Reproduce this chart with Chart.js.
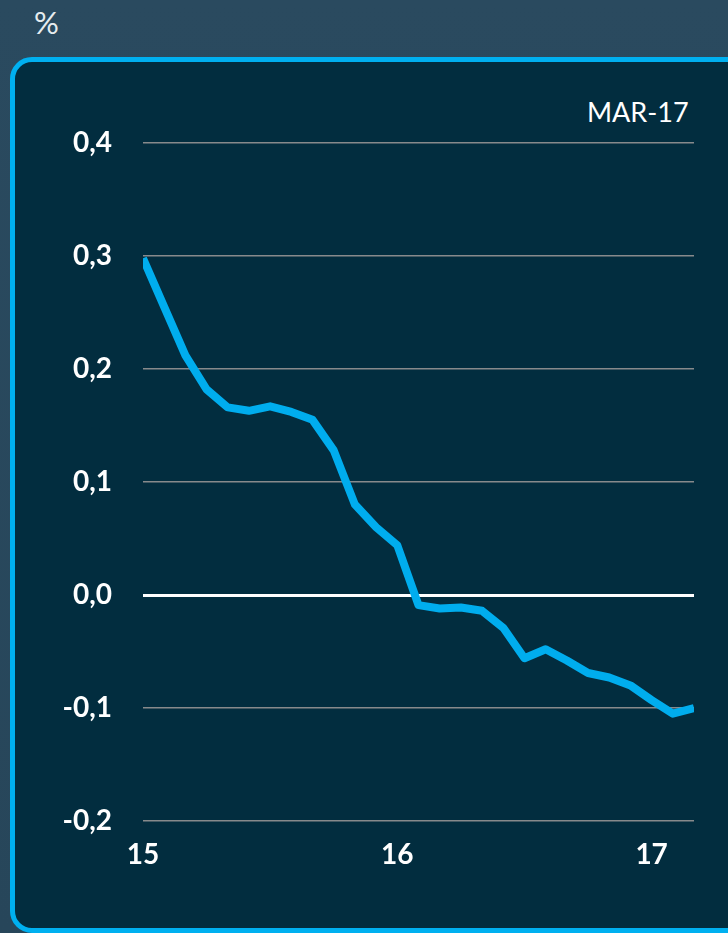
<!DOCTYPE html>
<html>
<head>
<meta charset="utf-8">
<script src="https://cdn.jsdelivr.net/npm/chart.js@4"></script>
<style>
  html, body { margin: 0; padding: 0; }
  body {
    width: 728px; height: 933px; overflow: hidden; position: relative;
    background: linear-gradient(180deg, #2a4a5f 0%, #27465a 100%);
    font-family: Lato, "Open Sans", sans-serif;
  }
  #pct { position: absolute; left: 34px; top: 3px; color: #e6ecef; font-size: 31px; }
  #box {
    position: absolute; left: 10px; top: 57px; width: 760px; height: 876px;
    box-sizing: border-box; border: 5px solid #00b0f0; border-radius: 22px;
    background: #022d3f;
  }
  #tag { position: absolute; left: 587px; top: 95px; color: #ffffff; font-size: 27px; }
  #myChart { position: absolute; left: 0; top: 0; }
</style>
</head>
<body>
<div id="pct">%</div>
<div id="box"></div>
<div id="tag">MAR-17</div>
<canvas id="myChart" width="728" height="933"></canvas>
<script>
// meses ene-2015 a mar-2017
const meses = ["ene-15","feb-15","mar-15","abr-15","may-15","jun-15","jul-15","ago-15","sep-15","oct-15","nov-15","dic-15",
  "ene-16","feb-16","mar-16","abr-16","may-16","jun-16","jul-16","ago-16","sep-16","oct-16","nov-16","dic-16",
  "ene-17","feb-17","mar-17"];
const valores = [0.298, 0.255, 0.212, 0.182, 0.166, 0.163, 0.167, 0.162, 0.155, 0.128, 0.080, 0.060,
  0.044, -0.009, -0.012, -0.011, -0.014, -0.029, -0.056, -0.048, -0.058, -0.069, -0.073, -0.080,
  -0.093, -0.105, -0.100];
const etiquetasX = { 0: "15", 12: "16", 24: "17" };
const ticksY = [-0.2, -0.1, 0, 0.1, 0.2, 0.3, 0.4];

const ctx = document.getElementById("myChart");

new Chart(ctx, {
  type: "line",
  data: {
    labels: meses,
    datasets: [{
      data: valores,
      borderColor: "#00adee",
      borderWidth: 8,
      pointRadius: 0,
      tension: 0,
      borderJoinStyle: "round",
      clip: { left: 0, right: 0, top: false, bottom: false },
    }],
  },
  options: {
    responsive: false,
    animation: false,
    devicePixelRatio: 1,
    layout: { padding: { top: 143, right: 34, bottom: 0, left: 0 } },
    plugins: { legend: { display: false }, tooltip: { enabled: false } },
    scales: {
      x: {
        offset: false,
        grid: { display: false, drawTicks: false },
        border: { display: false },
        afterFit: (axis) => { axis.height = 112; },
        ticks: {
          autoSkip: false,
          maxRotation: 0,
          padding: 17,
          color: "#ffffff",
          font: { family: "Lato", size: 28, weight: "bold" },
          callback: (val, i) => etiquetasX[i] || "",
        },
      },
      y: {
        min: ticksY[0],
        max: ticksY[ticksY.length - 1],
        afterFit: (axis) => { axis.width = 143; },
        afterBuildTicks: (axis) => { axis.ticks = ticksY.map((v) => ({ value: v })); },
        border: { display: false },
        grid: {
          drawTicks: false,
          color: (c) => (c.tick && c.tick.value === 0 ? "#ffffff" : "#878a8c"),
          lineWidth: (c) => (c.tick && c.tick.value === 0 ? 3 : 1.5),
        },
        ticks: {
          padding: 31,
          color: "#ffffff",
          font: { family: "Lato", size: 28, weight: "bold" },
          callback: (v) => v.toFixed(1).replace(".", ","),
        },
      },
    },
  },
});
</script>
</body>
</html>
